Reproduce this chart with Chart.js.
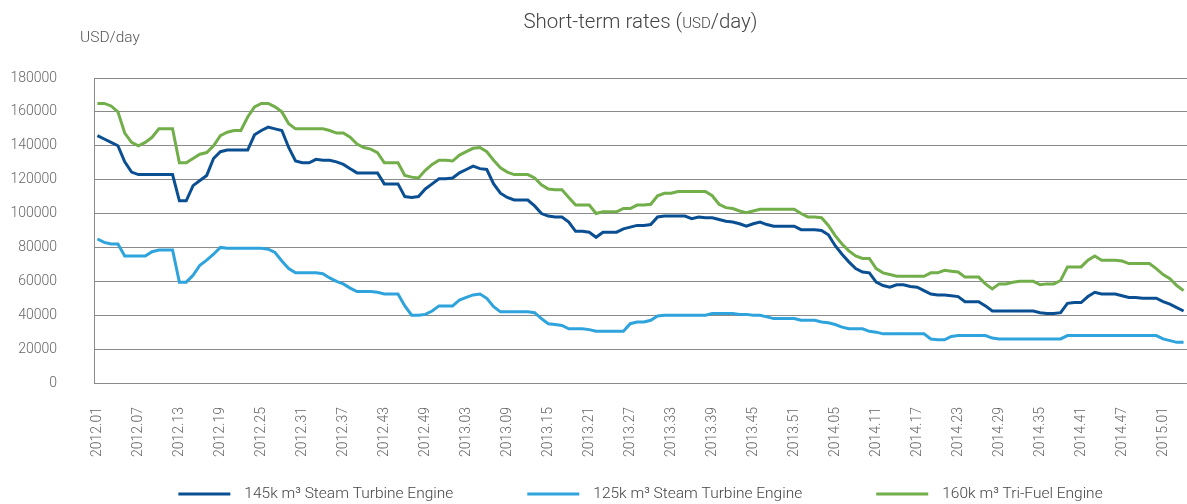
<!DOCTYPE html>
<html>
<head>
<meta charset="utf-8">
<title>Short-term rates</title>
<script src="https://cdn.jsdelivr.net/npm/chart.js@4"></script>
<style>
  body { margin: 0; background: #fff; }
  #wrap { width: 1187px; height: 504px; }
</style>
</head>
<body>
<div id="wrap"><canvas id="chart" width="1187" height="504"></canvas></div>
<script>
"use strict";

// weeks per year shown on the axis (2015 runs to week 04)
const years = [[2012, 52], [2013, 52], [2014, 52], [2015, 4]];
const weeks = [];
years.forEach(function(y) {
    for (let w = 1; w <= y[1]; w++) weeks.push(y[0] + '.' + String(w).padStart(2, '0'));
});
const labelEvery = 6;

const seriesNames = ['145k m\u00b3 Steam Turbine Engine', '125k m\u00b3 Steam Turbine Engine', '160k m\u00b3 Tri-Fuel Engine'];
const seriesColors = ['#0b4f93', '#2ea3dc', '#72ae4a'];

const steam145 = [
    146000, 144000, 142000, 140000, 130500, 124500, 123000, 123000, 123000, 123000,
    123000, 123000, 107500, 107500, 116500, 119500, 122500, 132500, 136500, 137500,
    137500, 137500, 137500, 146500, 149000, 151000, 150000, 149000, 139000, 131000,
    130000, 130000, 132000, 131500, 131500, 130500, 129000, 126500, 124000, 124000,
    124000, 124000, 117500, 117500, 117500, 110000, 109500, 110000, 114500, 117500,
    120500, 120500, 121000, 124000, 126000, 128000, 126500, 126000, 117500, 112000,
    109500, 108000, 108000, 108000, 104500, 100000, 98500, 98000, 98000, 95000,
    89500, 89500, 89000, 86000, 89000, 89000, 89000, 91000, 92000, 93000,
    93000, 93500, 98000, 98500, 98500, 98500, 98500, 97000, 98000, 97500,
    97500, 96500, 95500, 95000, 94000, 92500, 94000, 95000, 93500, 92500,
    92500, 92500, 92500, 90500, 90500, 90500, 90000, 87500, 81000, 76000,
    71500, 67500, 65500, 65000, 59500, 57500, 56500, 58000, 58000, 57000,
    56500, 54500, 52500, 52000, 52000, 51500, 51000, 48000, 48000, 48000,
    45500, 42500, 42500, 42500, 42500, 42500, 42500, 42500, 41500, 41000,
    41000, 41500, 47000, 47500, 47500, 51000, 53500, 52500, 52500, 52500,
    51500, 50500, 50500, 50000, 50000, 50000, 48000, 46500, 44500, 42500
];

const steam125 = [
    85000, 83000, 82000, 82000, 75000, 75000, 75000, 75000, 77500, 78500,
    78500, 78500, 59500, 59500, 63500, 69500, 72500, 76000, 80000, 79500,
    79500, 79500, 79500, 79500, 79500, 79000, 77000, 72000, 67500, 65000,
    65000, 65000, 65000, 64500, 62000, 60000, 58500, 56000, 54000, 54000,
    54000, 53500, 52500, 52500, 52500, 45500, 40000, 40000, 40500, 42500,
    45500, 45500, 45500, 49000, 50500, 52000, 52500, 50000, 45000, 42000,
    42000, 42000, 42000, 42000, 41500, 38000, 35000, 34500, 34000, 32000,
    32000, 32000, 31500, 30500, 30500, 30500, 30500, 30500, 35000, 36000,
    36000, 37000, 39500, 40000, 40000, 40000, 40000, 40000, 40000, 40000,
    41000, 41000, 41000, 41000, 40500, 40500, 40000, 40000, 39000, 38000,
    38000, 38000, 38000, 37000, 37000, 37000, 36000, 35500, 34500, 33000,
    32000, 32000, 32000, 30500, 30000, 29000, 29000, 29000, 29000, 29000,
    29000, 29000, 26000, 25500, 25500, 27500, 28000, 28000, 28000, 28000,
    28000, 26500, 26000, 26000, 26000, 26000, 26000, 26000, 26000, 26000,
    26000, 26000, 28000, 28000, 28000, 28000, 28000, 28000, 28000, 28000,
    28000, 28000, 28000, 28000, 28000, 28000, 26000, 25000, 24000, 24000
];

const trifuel160 = [
    165000, 165000, 163500, 160000, 147500, 142000, 140000, 142000, 145000, 150000,
    150000, 150000, 130000, 130000, 132500, 135000, 136000, 140000, 146000, 148000,
    149000, 149000, 157000, 163000, 165000, 165000, 163000, 160000, 153000, 150000,
    150000, 150000, 150000, 150000, 149000, 147500, 147500, 145000, 141000, 139000,
    138000, 136000, 130000, 130000, 130000, 122500, 121500, 121000, 125500, 129000,
    131500, 131500, 131000, 134500, 136500, 138500, 139000, 136500, 131500, 127000,
    124500, 123000, 123000, 123000, 121000, 117000, 114500, 114000, 114000, 109500,
    105000, 105000, 105000, 100000, 101000, 101000, 101000, 103000, 103000, 105000,
    105000, 105500, 110500, 112000, 112000, 113000, 113000, 113000, 113000, 113000,
    110500, 105500, 103500, 103000, 101500, 100500, 101500, 102500, 102500, 102500,
    102500, 102500, 102500, 100000, 98000, 98000, 97500, 93000, 87000, 82000,
    78000, 75000, 73500, 73500, 67500, 65000, 64000, 63000, 63000, 63000,
    63000, 63000, 65000, 65000, 66500, 66000, 65500, 62500, 62500, 62500,
    58500, 55500, 58500, 58500, 59500, 60000, 60000, 60000, 58000, 58500,
    58500, 60500, 68500, 68500, 68500, 72500, 75000, 72500, 72500, 72500,
    72000, 70500, 70500, 70500, 70500, 67500, 64000, 61500, 57500, 54500
];

const yMax = 180000;
const yStep = 20000;

const FONT = 'Roboto, "DejaVu Sans", sans-serif';

// title, unit and legend are centred on the plot area like in the original
const textBits = {
    id: 'textBits',
    afterDraw(chart) {
        const ctx = chart.ctx;
        const area = chart.chartArea;
        const mid = (area.left + area.right) / 2;
        ctx.save();
        ctx.textBaseline = 'alphabetic';
        ctx.textAlign = 'left';
        ctx.fillStyle = '#444';

        // title, with small caps for USD
        const parts = [['Short-term rates (', 20.5], ['USD', 15], ['/day)', 20.5]];
        let total = 0;
        parts.forEach(function(p) {
            ctx.font = '300 ' + p[1] + 'px ' + FONT;
            p.push(ctx.measureText(p[0]).width);
            total += p[2];
        });
        let x = mid - total / 2;
        parts.forEach(function(p) {
            ctx.font = '300 ' + p[1] + 'px ' + FONT;
            ctx.fillText(p[0], x, 28);
            x += p[2];
        });

        ctx.fillStyle = '#555';
        ctx.font = '300 15.5px ' + FONT;
        ctx.fillText('USD/day', 80, 42);

        // legend
        const lineW = 52, gap = 14, itemGap = 74, ly = 494;
        ctx.font = '300 15.5px ' + FONT;
        let width = 0;
        const widths = chart.data.datasets.map(function(ds) {
            const w = ctx.measureText(ds.label).width;
            width += lineW + gap + w;
            return w;
        });
        width += itemGap * (widths.length - 1);
        x = mid - width / 2;
        ctx.textBaseline = 'middle';
        chart.data.datasets.forEach(function(ds, i) {
            ctx.strokeStyle = ds.borderColor;
            ctx.lineWidth = 3;
            ctx.beginPath();
            ctx.moveTo(x, ly);
            ctx.lineTo(x + lineW, ly);
            ctx.stroke();
            ctx.fillStyle = '#444';
            ctx.fillText(ds.label, x + lineW + gap, ly);
            x += lineW + gap + widths[i] + itemGap;
        });
        ctx.restore();
    }
};

const seriesData = [steam145, steam125, trifuel160];

new Chart(document.getElementById('chart'), {
    type: 'line',
    data: {
        labels: weeks,
        datasets: seriesData.map(function(values, i) {
            return {
                label: seriesNames[i],
                data: values,
                borderColor: seriesColors[i],
                backgroundColor: seriesColors[i],
                borderWidth: 3,
                pointRadius: 0,
                tension: 0,
                fill: false
            };
        })
    },
    plugins: [textBits],
    options: {
        responsive: false,
        animation: false,
        layout: { padding: { top: 78, right: 0, bottom: 0, left: 0 } },
        plugins: {
            legend: { display: false },
            title: { display: false },
            tooltip: { enabled: false }
        },
        scales: {
            x: {
                offset: true,
                grid: { display: false, drawTicks: false },
                border: { display: true, color: '#8a8a8a', width: 1 },
                ticks: {
                    autoSkip: false,
                    minRotation: 90,
                    maxRotation: 90,
                    padding: 24,
                    color: '#666',
                    font: { family: FONT, size: 14, weight: '300' },
                    callback: function(value, index) {
                        return index % labelEvery === 0 ? weeks[index] : '';
                    }
                },
                afterFit: function(scale) {
                    scale.height = 121;
                    scale.paddingLeft = 0;
                    scale.paddingRight = 0;
                }
            },
            y: {
                min: 0,
                max: yMax,
                grid: { color: '#8a8a8a', lineWidth: 1, drawTicks: false },
                border: { display: true, color: '#8a8a8a', width: 1 },
                ticks: {
                    stepSize: yStep,
                    padding: 37,
                    color: '#666',
                    font: { family: FONT, size: 14, weight: '300' },
                    callback: function(value) { return String(value); }
                },
                afterFit: function(scale) { scale.width = 94; }
            }
        }
    }
});
</script>
</body>
</html>
